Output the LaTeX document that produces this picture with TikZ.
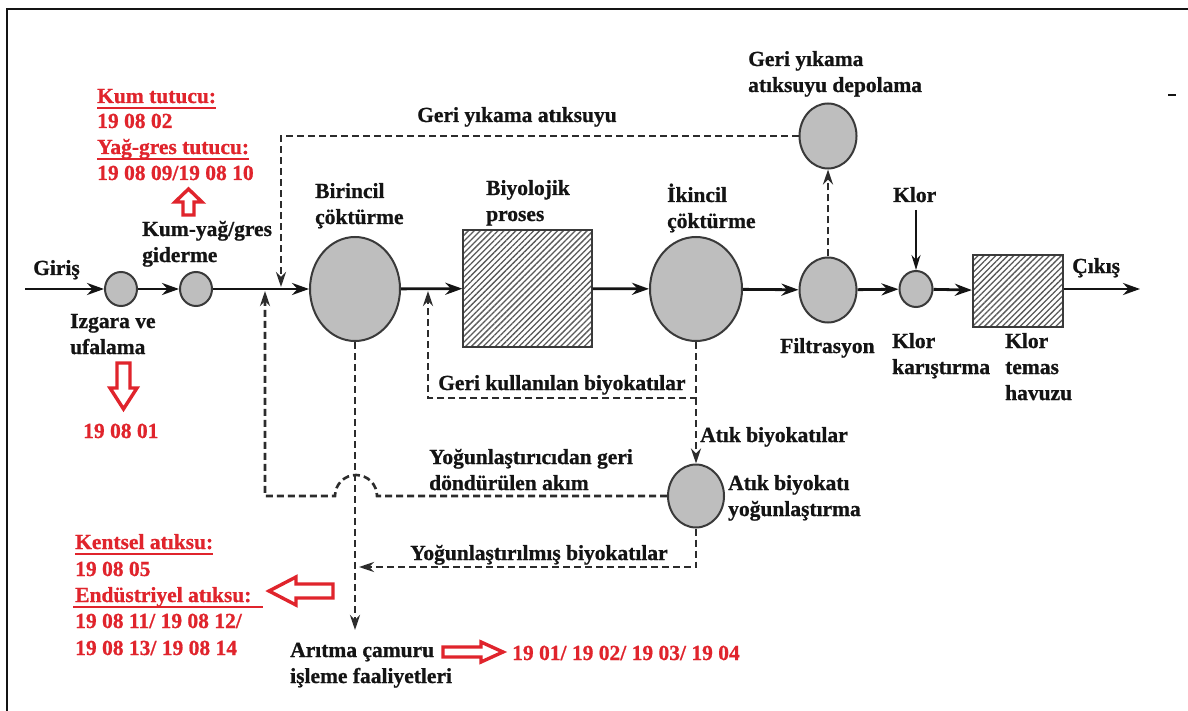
\documentclass[tikz,border=0pt]{standalone}
\usepackage{fontspec}
\setmainfont{Liberation Serif}[BoldFeatures={FakeBold=0.8}]
\usetikzlibrary{arrows.meta,shapes.geometric,patterns.meta}
\definecolor{wred}{HTML}{E0242C}
\definecolor{cfill}{HTML}{BEBEBE}
\definecolor{cline}{HTML}{3A3A3A}
\definecolor{ink}{HTML}{141414}
\newcommand\lblfont{\fontsize{21.5}{26}\selectfont\bfseries}
\begin{document}
\begin{tikzpicture}[x=1pt,y=-1pt,
  lbl/.style={anchor=base west, inner sep=0, font=\lblfont, text=ink},
  rlbl/.style={lbl, text=wred},
  unit/.style={ellipse, draw=cline, line width=2pt, fill=cfill, inner sep=0},
  tank/.style={rectangle, draw=cline, line width=2.2pt, inner sep=0,
    pattern={Lines[angle=45,distance=4.2pt,line width=1.3pt]}, pattern color=black!65},
  flow/.style={line width=2.8pt, draw=ink, -{Stealth[length=17pt,width=12pt]}},
  dline/.style={line width=2.6pt, draw=ink!90, dash pattern=on 7pt off 4pt},
  dflow/.style={dline, -{Stealth[length=15pt,width=10pt]}},
  bigarrow/.style={draw=wred, line width=3.4pt, fill=white, line join=miter},
  uline/.style={draw=wred, line width=2.4pt}
]
\useasboundingbox (0,0) rectangle (1188,711);
\fill[white] (0,0) rectangle (1188,711);
% frame
\draw[line width=2.2pt, ink] (7,711) -- (7,9) -- (1188,9);
\draw[line width=1.5pt, ink] (1168,95) -- (1176,95);

% process units
\node[unit, minimum width=32pt, minimum height=34pt] (c1) at (121,289) {};
\node[unit, minimum width=32pt, minimum height=34pt] (c2) at (196,289) {};
\node[unit, minimum width=90pt, minimum height=104pt] (prim) at (355,289) {};
\node[tank, minimum width=129pt, minimum height=117pt] (bio) at (527.5,288.5) {};
\node[unit, minimum width=92pt, minimum height=104pt] (sec) at (696,289) {};
\node[unit, minimum width=57pt, minimum height=65pt] (filt) at (828,290) {};
\node[unit, minimum width=57pt, minimum height=65pt] (store) at (828,136) {};
\node[unit, minimum width=33pt, minimum height=36pt] (mix) at (916,289) {};
\node[tank, minimum width=90pt, minimum height=72pt] (contact) at (1018,291) {};
\node[unit, minimum width=56pt, minimum height=63pt] (thick) at (696,496) {};

% free ends
\coordinate (gin) at (25,289);
\coordinate (gout) at (1140,289);
\coordinate (cl) at (916,210);
\coordinate (j1) at (281,287);
\coordinate (j2) at (428,291);
\coordinate (j3) at (265,291);
\coordinate (r1) at (696,398);
\coordinate (h1) at (377,496);
\coordinate (k1) at (359,567);
\coordinate (sl) at (355,630);

% main flow
\draw[flow] (gin) -- (c1);
\draw[flow] (c1) -- (c2);
\draw[flow] (c2) -- (prim);
\draw[flow] (prim) -- (bio);
\draw[flow] (bio) -- (sec);
\draw[flow] (sec) -- (filt);
\draw[flow] (filt) -- (mix);
\draw[flow] (mix) -- (contact);
\draw[flow] (contact.east |- gout) -- (gout);
\draw[line width=2pt, ink, -{Stealth[length=15pt,width=9pt]}] (cl) -- (mix.north);

% dashed streams
\draw[dflow] (filt.north) -- (store.south);
\draw[dflow] (store.west) -| (j1);
\draw[dflow] (sec.south) -- (r1) -| (j2);
\draw[dflow] (r1) -- (thick.north);
\draw[dflow] (thick.west) -- (h1) arc[start angle=0, end angle=-180, radius=21] -- (265,496) -- (j3);
\draw[dflow] (thick.south) |- (k1);
\draw[dflow] (prim.south) -- (sl);

% black labels
\node[lbl] (tgiris) at (33,275) {Giriş};
\node[lbl] (tizg1) at (70,328) {Izgara ve};
\node[lbl] (tizg2) at (70,354) {ufalama};
\node[lbl] (tkum1) at (142,236) {Kum-yağ/gres};
\node[lbl] (tkum2) at (142,262) {giderme};
\node[lbl] (tbir1) at (315,198) {Birincil};
\node[lbl] (tbir2) at (315,224) {çöktürme};
\node[lbl] (tbio1) at (486,195) {Biyolojik};
\node[lbl] (tbio2) at (486,221) {proses};
\node[lbl] (tik1) at (667,202) {İkincil};
\node[lbl] (tik2) at (667,228) {çöktürme};
\node[lbl] (tgya) at (417,122) {Geri yıkama atıksuyu};
\node[lbl] (tdep1) at (748,66) {Geri yıkama};
\node[lbl] (tdep2) at (748,92) {atıksuyu depolama};
\node[lbl] (tklor) at (893,202) {Klor};
\node[lbl] (tcikis) at (1072,273) {Çıkış};
\node[lbl] (tfilt) at (780,353) {Filtrasyon};
\node[lbl] (tkk1) at (892,348) {Klor};
\node[lbl] (tkk2) at (892,374) {karıştırma};
\node[lbl] (tkt1) at (1005,348) {Klor};
\node[lbl] (tkt2) at (1005,374) {temas};
\node[lbl] (tkt3) at (1005,400) {havuzu};
\node[lbl] (tgkb) at (438,390) {Geri kullanılan biyokatılar};
\node[lbl] (tab) at (700,442) {Atık biyokatılar};
\node[lbl] (tyg1) at (429,464) {Yoğunlaştırıcıdan geri};
\node[lbl] (tyg2) at (429,490) {döndürülen akım};
\node[lbl] (tabk1) at (728,490) {Atık biyokatı};
\node[lbl] (tabk2) at (728,516) {yoğunlaştırma};
\node[lbl] (tyb) at (410,560) {Yoğunlaştırılmış biyokatılar};
\node[lbl] (tac1) at (290,657) {Arıtma çamuru};
\node[lbl] (tac2) at (290,683) {işleme faaliyetleri};

% red labels
\node[rlbl] (rk1) at (97,103) {Kum tutucu:};
\draw[uline] (97,108) -- (rk1.east |- 0,108);
\node[rlbl] (rk2) at (97,128) {19 08 02};
\node[rlbl] (ry1) at (97,154) {Yağ-gres tutucu:};
\draw[uline] (97,159) -- (ry1.east |- 0,159);
\node[rlbl] (ry2) at (97,180) {19 08 09/19 08 10};
\node[rlbl] (rizg) at (83,438) {19 08 01};
\node[rlbl] (rke1) at (75,549) {Kentsel atıksu:};
\draw[uline] (75,554) -- (rke1.east |- 0,554);
\node[rlbl] (rke2) at (75,576) {19 08 05};
\node[rlbl] (ren1) at (75,602) {Endüstriyel atıksu:};
\draw[uline] (73,607) -- (263,607);
\node[rlbl] (ren2) at (75,628) {19 08 11/ 19 08 12/};
\node[rlbl] (ren3) at (75,655) {19 08 13/ 19 08 14};
\node[rlbl] (rac) at (512,660) {19 01/ 19 02/ 19 03/ 19 04};

% red block arrows
\draw[bigarrow] (188.5,189) -- (202,202) -- (194,202) -- (194,215) -- (183,215) -- (183,202) -- (175,202) -- cycle;
\draw[bigarrow] (123.5,409) -- (137,388) -- (130,388) -- (130,363) -- (117,363) -- (117,388) -- (110,388) -- cycle;
\draw[bigarrow] (269,591) -- (296,577) -- (296,584) -- (333,584) -- (333,598) -- (296,598) -- (296,605) -- cycle;
\draw[bigarrow] (503,652) -- (481,642) -- (481,647) -- (443,647) -- (443,657) -- (481,657) -- (481,662) -- cycle;
\end{tikzpicture}
\end{document}
